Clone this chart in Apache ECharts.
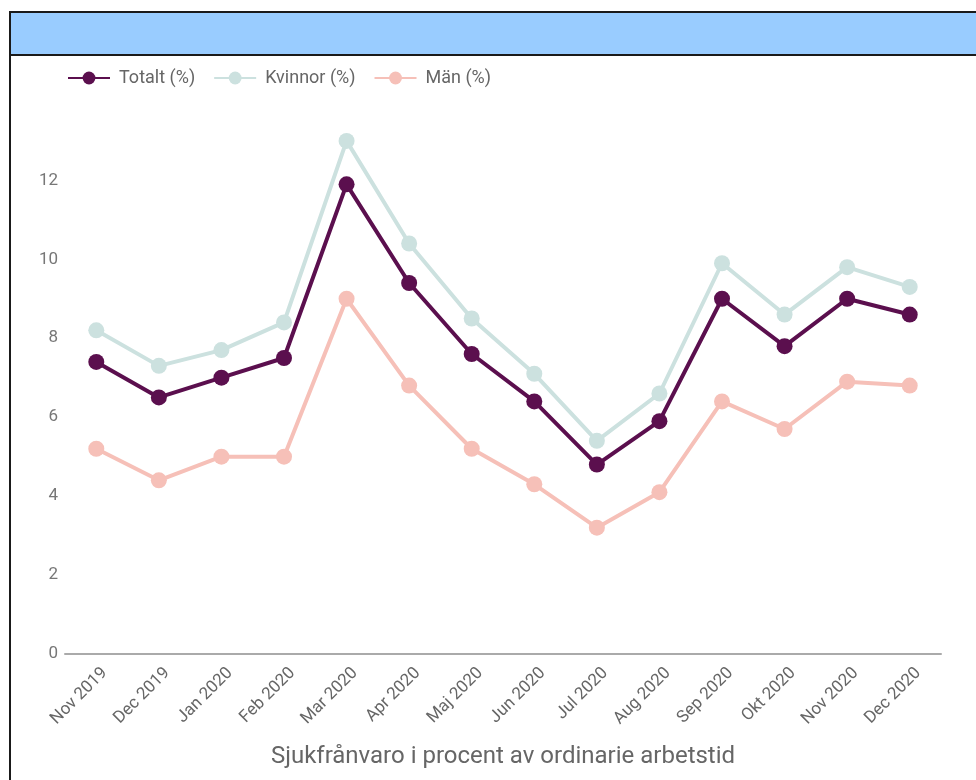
<!DOCTYPE html>
<html>
<head>
<meta charset="utf-8">
<script src="https://cdn.jsdelivr.net/npm/echarts@6/dist/echarts.min.js"></script>
<style>
  body { margin: 0; background: #fff; }
  .frame { position: absolute; left: 9px; top: 11px; width: 1000px; height: 820px; border: 2px solid #1a1a1a; box-sizing: border-box; }
  .header { height: 41px; background: #99ccff; border-bottom: 2px solid #1a1a1a; }
  #chart { position: absolute; left: 0; top: 0; width: 976px; height: 780px; }
</style>
</head>
<body>
<div class="frame"><div class="header"></div></div>
<div id="chart"></div>
<script>
  const months = ['Nov 2019', 'Dec 2019', 'Jan 2020', 'Feb 2020', 'Mar 2020', 'Apr 2020', 'Maj 2020',
    'Jun 2020', 'Jul 2020', 'Aug 2020', 'Sep 2020', 'Okt 2020', 'Nov 2020', 'Dec 2020'];
  const totalt = [7.4, 6.5, 7.0, 7.5, 11.9, 9.4, 7.6, 6.4, 4.8, 5.9, 9.0, 7.8, 9.0, 8.6];
  const kvinnor = [8.2, 7.3, 7.7, 8.4, 13.0, 10.4, 8.5, 7.1, 5.4, 6.6, 9.9, 8.6, 9.8, 9.3];
  const man = [5.2, 4.4, 5.0, 5.0, 9.0, 6.8, 5.2, 4.3, 3.2, 4.1, 6.4, 5.7, 6.9, 6.8];

  const chart = echarts.init(document.getElementById('chart'));

  // en serie per linje
  function line(name, data, color) {
    return {
      name: name,
      type: 'line',
      data: data,
      symbol: 'circle',
      symbolSize: 16,
      lineStyle: { width: 4, color: color },
      itemStyle: { color: color },
      emphasis: { disabled: true },
      clip: false
    };
  }

  chart.setOption({
    textStyle: { fontFamily: 'Roboto' },
    legend: {
      left: 62,
      top: 64,
      itemWidth: 42,
      itemHeight: 16,
      itemGap: 18,
      textStyle: { fontSize: 18, color: '#666', padding: [0, 0, 0, 4] },
      data: ['Totalt (%)', 'Kvinnor (%)', 'Män (%)']
    },
    grid: { left: 65, right: 35, top: 133, bottom: 126 },
    xAxis: {
      type: 'category',
      data: months,
      boundaryGap: true,
      axisLine: { lineStyle: { color: '#aaa', width: 2 } },
      axisTick: { show: false },
      axisLabel: {
        rotate: 45, fontSize: 17, color: '#666', margin: 8, interval: 0,
        verticalAlign: 'top', lineHeight: 24
      },
      name: 'Sjukfrånvaro i procent av ordinarie arbetstid',
      nameLocation: 'middle',
      nameGap: 91,
      nameTextStyle: { fontSize: 24, color: '#666' }
    },
    yAxis: {
      type: 'value',
      min: 0,
      max: 13.2,
      interval: 2,
      axisLine: { show: false },
      axisTick: { show: false },
      splitLine: { show: false },
      axisLabel: { fontSize: 17, color: '#777', margin: 7, showMaxLabel: false }
    },
    series: [
      line('Totalt (%)', totalt, '#5b0f4e'),
      line('Kvinnor (%)', kvinnor, '#cce1df'),
      line('Män (%)', man, '#f6c0b8')
    ]
  });
</script>
</body>
</html>
